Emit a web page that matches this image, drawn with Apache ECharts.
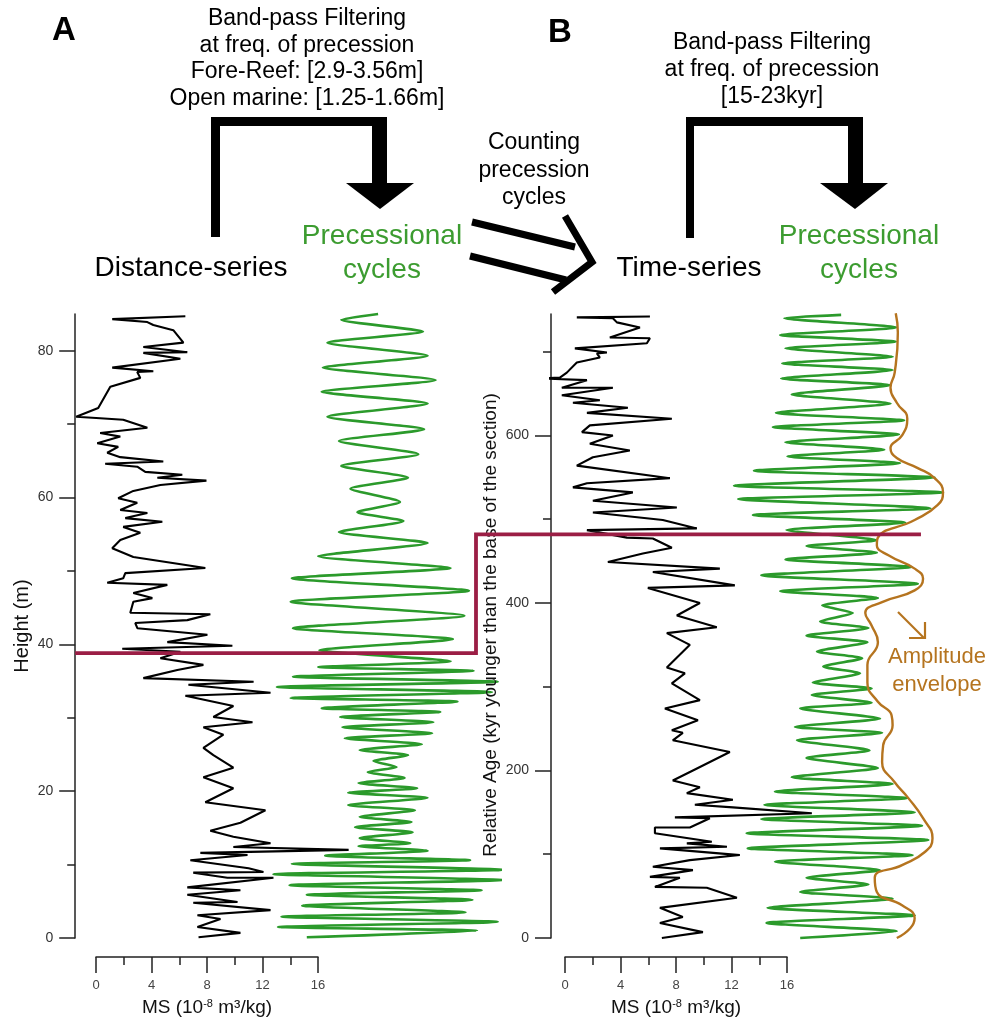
<!DOCTYPE html>
<html>
<head>
<meta charset="utf-8">
<script src="https://cdn.jsdelivr.net/npm/echarts@6/dist/echarts.min.js"></script>
<style>
  html, body { margin: 0; padding: 0; background: #fff; }
  #main { width: 992px; height: 1024px; }
</style>
</head>
<body>
<div id="main"></div>
<script>
var FONT = '"Liberation Sans", Arial, sans-serif';
var GREEN = '#2b9a2b';
var GREEN_TXT = '#3c9c30';
var BROWN = '#b5741f';
var RED = '#9b1e45';

// Panel A - magnetic susceptibility [MS, height m]
var msA = [[6.44,84.7],[1.17,84.3],[3.70,83.9],[4.13,83.5],[5.57,82.8],[6.30,81.1],[3.41,80.5],[6.58,79.8],[3.41,79.7],[6.08,78.9],
  [1.17,77.7],[4.13,77.2],[2.97,77.1],[3.19,76.3],[1.03,75.1],[0.16,72.2],[-1.43,71.0],[0.30,70.8],[1.96,70.6],[3.70,69.5],
  [0.30,68.8],[1.75,68.3],[0.09,67.4],[1.60,66.9],[0.81,66.1],[1.75,65.5],[4.85,64.9],[0.66,64.6],[2.97,64.2],[3.55,63.5],
  [6.22,63.1],[4.42,62.7],[7.96,62.3],[4.64,61.7],[2.69,60.9],[1.60,59.9],[2.97,59.3],[1.75,58.3],[3.70,57.9],[2.11,57.2],
  [4.78,56.7],[1.96,56.0],[3.19,55.2],[1.75,54.2],[1.17,53.1],[2.69,51.9],[7.88,50.4],[2.11,49.7],[1.96,49.0],[0.81,48.4],
  [5.14,48.1],[2.69,47.0],[4.06,46.3],[2.69,45.8],[2.47,44.3],[8.24,44.1],[6.58,43.3],[2.83,42.9],[2.98,42.2],[8.03,41.3],
  [5.14,40.3],[9.83,39.8],[1.89,39.4],[6.08,39.0],[4.64,38.1],[7.74,37.2],[5.86,36.5],[3.41,35.4],[11.36,34.9],[6.66,34.5],
  [12.58,33.4],[6.44,33.0],[9.90,31.6],[8.46,30.1],[11.28,29.4],[7.74,28.7],[9.18,27.7],[7.74,25.9],[8.46,24.9],[9.90,23.2],
  [7.74,21.9],[9.90,20.4],[7.88,18.5],[12.21,17.4],[10.41,15.7],[8.24,14.6],[9.90,13.8],[12.58,12.9],[9.90,12.4],[18.21,12.0],
  [7.52,11.6],[10.92,11.3],[6.80,10.6],[11.0,9.5],[12.07,9.0],[7.01,8.9],[9.47,8.2],[12.79,8.2],[6.58,6.9],[10.41,6.5],
  [6.58,5.9],[10.2,4.9],[7.01,4.8],[12.58,3.8],[7.31,3.1],[8.97,2.6],[7.31,1.5],[10.41,0.7],[7.39,0.1]];

// Panel A - band-pass filtered precession signal [amplitude, height m]
var precA = [[-0.06,85.0],[-0.38,84.2],[0.33,82.6],[-0.50,81.1],[0.37,79.3],[-0.54,77.7],[0.44,76.0],[-0.55,74.4],[0.37,72.8],[-0.50,71.0],
  [0.34,69.3],[-0.40,67.7],[0.29,65.9],[-0.38,64.3],[0.20,62.7],[-0.30,61.2],[0.13,59.4],[-0.24,58.0],[0.16,56.8],[-0.40,55.3],
  [0.37,53.8],[-0.58,52.0],[0.57,50.4],[-0.81,49.0],[0.73,47.3],[-0.82,45.8],[0.69,43.9],[-0.80,42.2],[0.59,40.7],[-0.57,39.2],
  [0.57,37.7],[-0.58,36.9],[0.77,36.4],[-0.80,35.6],[0.98,34.9],[-0.94,34.2],[0.93,33.5],[-0.82,32.7],[0.63,32.2],[-0.55,31.3],
  [0.48,30.8],[-0.39,30.1],[0.42,29.4],[-0.37,28.7],[0.41,27.9],[-0.35,27.2],[0.32,26.4],[-0.22,25.6],[0.20,24.9],[-0.10,24.1],
  [0.10,23.3],[-0.15,22.6],[0.17,21.8],[-0.23,21.1],[0.28,20.4],[-0.32,19.8],[0.37,19.1],[-0.32,18.1],[0.26,17.4],[-0.22,16.5],
  [0.23,15.8],[-0.26,15.1],[0.24,14.4],[-0.22,13.6],[0.22,12.9],[-0.23,12.5],[0.37,11.9],[-0.52,11.2],[0.74,10.6],[-0.81,10.1],
  [1.03,9.3],[-0.97,8.7],[1.03,7.9],[-0.83,7.2],[0.84,6.5],[-0.68,5.9],[0.76,5.2],[-0.72,4.4],[0.70,3.5],[-0.90,2.9],
  [0.98,2.2],[-0.93,1.5],[0.80,1.0],[-0.68,0.1]];

// Panel B - MS [MS, relative age kyr]
var msB = [[6.13,742],[0.86,741],[3.46,740],[3.75,735],[5.41,729],[3.24,717],[6.13,716],[5.91,710],[0.72,704],[3.03,699],
  [2.31,698],[2.52,693],[0.86,687],[0.14,675],[-0.36,669],[-1.73,668],[1.59,666],[-0.22,657],[3.46,657],[-0.22,648],
  [2.52,642],[0.58,639],[4.54,633],[1.59,627],[7.71,620],[1.80,612],[1.23,604],[3.46,600],[1.80,590],[4.68,582],
  [2.02,574],[0.86,564],[7.57,549],[1.59,543],[0.58,538],[4.90,532],[2.02,522],[8.07,514],[2.02,508],[7.06,499],
  [9.51,489],[1.59,487],[4.47,478],[6.34,477],[7.71,466],[5.62,459],[3.10,449],[11.17,441],[6.34,437],[12.25,421],
  [5.98,418],[9.73,400],[8.07,385],[10.95,371],[7.35,364],[9.01,350],[7.35,323],[8.65,316],[7.71,304],[9.73,284],
  [7.21,274],[9.59,260],[7.71,248],[8.50,245],[7.78,236],[11.89,222],[9.23,200],[7.78,188],[9.73,180],[8.79,173],
  [12.11,165],[9.37,159],[12.11,156],[17.80,149],[7.93,144],[10.45,143],[9.01,132],[6.49,132],[6.49,125],[10.59,115],
  [8.79,113],[11.68,109],[6.85,107],[12.61,99],[9.01,93],[6.34,85],[9.23,81],[6.13,73],[8.29,72],[6.49,61],
  [10.23,60],[12.40,48],[6.85,36],[8.50,25],[6.85,18],[9.95,7],[6.99,0]];

// Panel B - filtered precession signal [amplitude, age kyr]
var precB = [[0.03,744],[-0.51,740],[0.56,729],[-0.55,720],[0.55,712],[-0.50,704],[0.52,694],[-0.53,686],[0.52,678],[-0.54,668],
  [0.50,660],[-0.44,649],[0.50,638],[-0.59,627],[0.63,618],[-0.62,610],[0.58,601],[-0.50,592],[0.44,583],[-0.48,575],
  [0.59,567],[-0.80,558],[0.92,550],[-0.99,540],[1.00,532],[-0.95,524],[0.88,513],[-0.81,505],[0.64,496],[-0.49,487],
  [0.37,475],[-0.30,468],[0.37,460],[-0.50,452],[0.70,443],[-0.73,433],[0.76,423],[-0.55,414],[0.38,406],[-0.15,397],
  [0.14,388],[-0.17,378],[0.29,370],[-0.30,361],[0.28,353],[-0.20,342],[0.23,334],[-0.14,324],[0.21,316],[-0.24,305],
  [0.32,298],[-0.25,290],[0.32,281],[-0.36,274],[0.40,262],[-0.41,252],[0.42,245],[-0.39,236],[0.30,224],[-0.30,215],
  [0.38,203],[-0.44,192],[0.52,184],[-0.60,175],[0.66,167],[-0.70,159],[0.73,150],[-0.73,142],[0.80,134],[-0.87,125],
  [0.86,117],[-0.86,107],[0.71,99],[-0.60,91],[0.40,81],[-0.30,72],[0.29,64],[-0.36,55],[0.52,47],[-0.67,36],
  [0.73,27],[-0.68,18],[0.56,8],[-0.36,0]];

// Panel B - amplitude envelope [amplitude, age kyr]
var envB = [[0.55,746],[0.57,723],[0.54,675],[0.50,657],[0.56,639],[0.66,620],[0.61,600],[0.50,585],[0.56,573],[0.76,561],
  [0.92,549],[1.00,532],[0.95,517],[0.73,499],[0.38,478],[0.37,469],[0.48,457],[0.73,441],[0.81,429],[0.73,415],
  [0.42,401],[0.26,388],[0.32,373],[0.38,353],[0.28,326],[0.28,305],[0.38,282],[0.51,266],[0.52,254],[0.43,230],
  [0.42,210],[0.54,186],[0.67,167],[0.81,143],[0.90,119],[0.83,103],[0.61,87],[0.35,72],[0.37,55],[0.61,39],
  [0.73,24],[0.69,12],[0.56,0]];

var heightMajor = [0, 20, 40, 60, 80];
var heightMinor = [10, 30, 50, 70];
var ageMajor = [0, 200, 400, 600];
var ageMinor = [100, 300, 500, 700];
var boundaryHeight = 38.8;   // m, panel A
var boundaryAge = 482;       // kyr, panel B

var chart = echarts.init(document.getElementById('main'), null, { renderer: 'canvas' });

var AX = '#222';
function majorY(grid, max, ticks) {
  return {
    type: 'value', gridIndex: grid, min: 0, max: max, position: 'left',
    axisLine: { show: true, onZero: false, lineStyle: { color: AX, width: 1.5 } },
    axisTick: { show: true, length: 16, customValues: ticks, lineStyle: { color: AX, width: 1.5 } },
    axisLabel: { show: true, customValues: ticks, margin: 22, fontSize: 14, color: '#333', fontFamily: FONT },
    splitLine: { show: false }
  };
}
function minorY(grid, max, ticks) {
  return {
    type: 'value', gridIndex: grid, min: 0, max: max, position: 'left',
    axisLine: { show: false, onZero: false },
    axisTick: { show: true, length: 8, customValues: ticks, lineStyle: { color: AX, width: 1.5 } },
    axisLabel: { show: false },
    splitLine: { show: false }
  };
}
function hiddenY(grid, max) {
  return { type: 'value', gridIndex: grid, min: 0, max: max, show: false, splitLine: { show: false } };
}
function hiddenX(grid, min, max) {
  return { type: 'value', gridIndex: grid, min: min, max: max, show: false, splitLine: { show: false } };
}
function msAxis(grid) {
  return {
    type: 'value', gridIndex: grid, min: 0, max: 16, interval: 4, position: 'bottom',
    axisLine: { show: true, onZero: false, lineStyle: { color: AX, width: 1.5 } },
    axisTick: { show: true, length: 16, lineStyle: { color: AX, width: 1.5 } },
    minorTick: { show: true, splitNumber: 2, length: 8, lineStyle: { color: AX, width: 1.5 } },
    axisLabel: { margin: 22, fontSize: 13, color: '#444', fontFamily: FONT },
    splitLine: { show: false }, minorSplitLine: { show: false },
    name: '{a|MS (10}{s|-8}{a| m³/kg)}',
    nameLocation: 'middle', nameGap: 41,
    nameTextStyle: {
      rich: {
        a: { fontSize: 19, color: '#111', fontFamily: FONT },
        s: { fontSize: 11, color: '#111', fontFamily: FONT, padding: [0, 0, 9, 0] }
      }
    }
  };
}
function curve(xi, yi, data, color, width, smooth) {
  return {
    type: 'line', xAxisIndex: xi, yAxisIndex: yi, data: data,
    showSymbol: false, symbol: 'none', smooth: smooth || false, clip: false,
    lineStyle: { color: color, width: width }, silent: true
  };
}

var option = {
  animation: false,
  backgroundColor: '#fff',
  grid: [
    { left: 75.2, top: 314, width: 284.4, height: 624 },   // black A
    { left: 270, top: 314, width: 230, height: 624 },      // green A
    { left: 551, top: 314, width: 263.6, height: 624 },    // black B
    { left: 733, top: 314, width: 210, height: 624 },      // green B
    { left: 96, top: 946, width: 222, height: 11 },        // MS axis A
    { left: 565, top: 946, width: 222, height: 11 }        // MS axis B
  ],
  xAxis: [
    hiddenX(0, -1.5, 19),
    hiddenX(1, -1, 1),
    hiddenX(2, -1, 18),
    hiddenX(3, -1, 1),
    msAxis(4),
    msAxis(5)
  ],
  yAxis: [
    majorY(0, 85, heightMajor),
    minorY(0, 85, heightMinor),
    hiddenY(1, 85),
    majorY(2, 745, ageMajor),
    minorY(2, 745, ageMinor),
    hiddenY(3, 745),
    hiddenY(4, 1),
    hiddenY(5, 1)
  ],
  series: [
    curve(0, 0, msA, '#000', 2.1),
    curve(1, 2, precA, GREEN, 2.6, 0.2),
    curve(2, 3, msB, '#000', 2.1),
    curve(3, 5, precB, GREEN, 2.6, 0.2),
    curve(3, 5, envB, BROWN, 2.4, 0.5)
  ]
};
chart.setOption(option);

// annotation text and flow arrows
function txt(x, y, s, size, color, opts) {
  opts = opts || {};
  return {
    type: 'text', x: x, y: y, rotation: opts.rotation || 0, z: 20,
    style: {
      text: s, fill: color || '#000', align: 'center', verticalAlign: 'middle',
      font: (opts.bold ? 'bold ' : '') + size + 'px ' + FONT
    }
  };
}
function rect(x, y, w, h) {
  return { type: 'rect', shape: { x: x, y: y, width: w, height: h }, style: { fill: '#000' }, z: 20 };
}
function poly(points) {
  return { type: 'polygon', shape: { points: points }, style: { fill: '#000' }, z: 20 };
}
function pline(points, color, width) {
  return { type: 'polyline', shape: { points: points }, style: { stroke: color, lineWidth: width, fill: null, lineJoin: 'miter' }, z: 20 };
}

var yA = chart.convertToPixel({ yAxisIndex: 0 }, boundaryHeight);
var yB = chart.convertToPixel({ yAxisIndex: 3 }, boundaryAge);
var xL = chart.convertToPixel({ xAxisIndex: 0 }, -1.5);
var xR = chart.convertToPixel({ xAxisIndex: 3 }, 0.79);

var graphics = [
  txt(64, 31, 'A', 33, '#000', { bold: true }),
  txt(560, 33, 'B', 33, '#000', { bold: true }),
  txt(307, 19, 'Band-pass Filtering', 23),
  txt(307, 46, 'at freq. of precession', 23),
  txt(307, 72, 'Fore-Reef: [2.9-3.56m]', 23),
  txt(307, 99, 'Open marine: [1.25-1.66m]', 23),
  txt(772, 43, 'Band-pass Filtering', 23),
  txt(772, 70, 'at freq. of precession', 23),
  txt(772, 97, '[15-23kyr]', 23),
  txt(534, 143, 'Counting', 23),
  txt(534, 171, 'precession', 23),
  txt(534, 198, 'cycles', 23),
  txt(191, 268, 'Distance-series', 28),
  txt(689, 268, 'Time-series', 28),
  txt(382, 236, 'Precessional', 28, GREEN_TXT),
  txt(382, 270, 'cycles', 28, GREEN_TXT),
  txt(859, 236, 'Precessional', 28, GREEN_TXT),
  txt(859, 270, 'cycles', 28, GREEN_TXT),
  txt(937, 657, 'Amplitude', 22, BROWN),
  txt(937, 685, 'envelope', 22, BROWN),
  txt(22, 626, 'Height (m)', 20, '#111', { rotation: Math.PI / 2 }),
  txt(491, 625, 'Relative Age (kyr younger than the base of the section)', 19, '#111', { rotation: Math.PI / 2 }),
  // bracket A
  rect(211, 118, 9, 119),
  rect(211, 117, 176, 9),
  rect(372, 117, 15, 67),
  poly([[346, 183], [414, 183], [380, 209]]),
  // bracket B
  rect(686, 118, 8, 120),
  rect(686, 117, 177, 9),
  rect(848, 117, 15, 67),
  poly([[820, 183], [888, 183], [855, 209]]),
  // counting arrow
  pline([[472, 222], [575, 247]], '#000', 7),
  pline([[470, 256], [566, 280]], '#000', 7),
  pline([[565, 216], [592, 262], [553, 292]], '#000', 7),
  // envelope pointer
  pline([[898, 612], [924, 638]], BROWN, 2.2),
  pline([[909, 638], [925, 638], [925, 622]], BROWN, 2.2),
  // boundary line between the two sections
  pline([[xL, yA], [476, yA], [476, yB], [xR, yB]], RED, 3.8)
];
chart.setOption({ graphic: graphics });
</script>
</body>
</html>
